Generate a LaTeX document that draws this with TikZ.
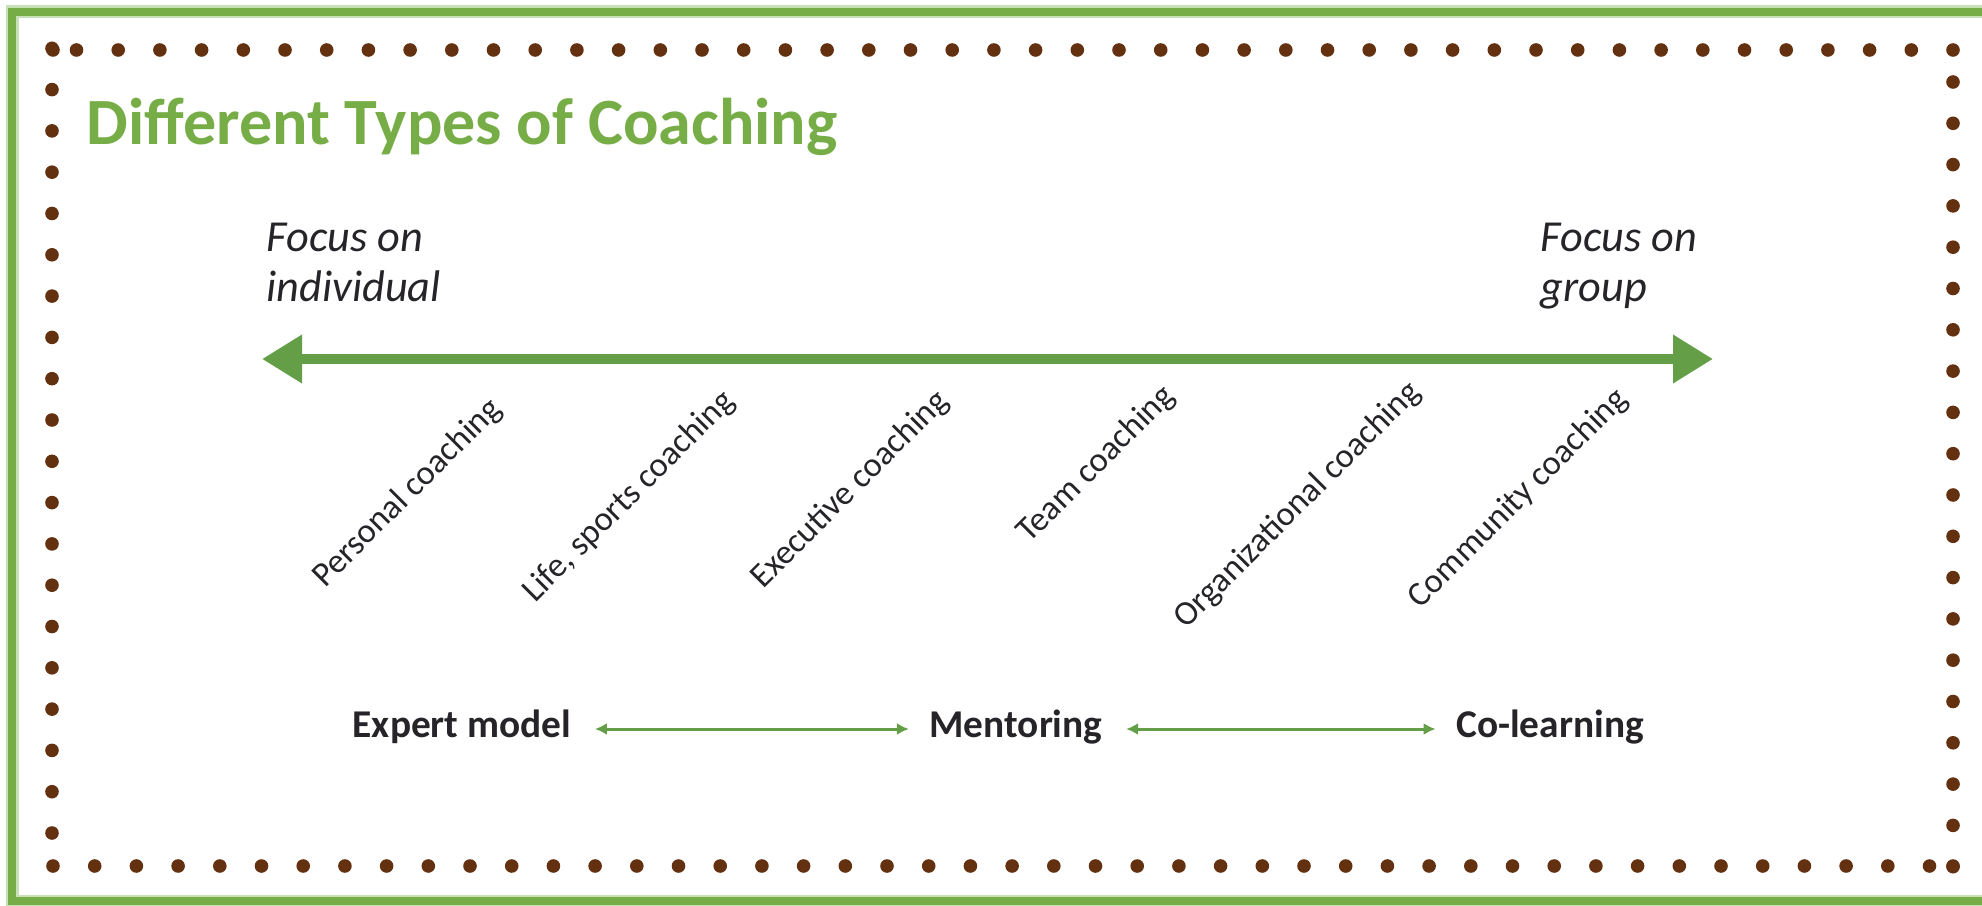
\documentclass[tikz,border=0pt]{standalone}
\usepackage{fontspec}
\setmainfont{Carlito}
\usepackage{xcolor}
\usepackage{tikz}
\usetikzlibrary{arrows.meta}
\usetikzlibrary{positioning}

\definecolor{framegreen}{RGB}{119,173,71}
\definecolor{halogreen}{RGB}{200,224,182}
\definecolor{arrowgreen}{RGB}{100,158,71}
\definecolor{dotbrown}{RGB}{99,48,16}
\definecolor{textgray}{RGB}{38,36,40}

\begin{document}
\begin{tikzpicture}[x=0.1mm,y=-0.1mm,
    coachtype/.style={rotate=45,anchor=east,inner sep=0pt,text=textgray,
      font=\fontsize{9.8}{12}\selectfont},
    focus/.style={anchor=north west,align=left,inner sep=0pt,text=textgray,
      font=\fontsize{12.6}{14.2}\selectfont\itshape},
    model/.style={anchor=mid,inner sep=0pt,text=textgray,
      font=\fontsize{11.2}{13}\selectfont\bfseries},
    bigarrow/.style={draw=arrowgreen,line width=1mm,
      {Triangle[length=4mm,width=4.6mm]}-{Triangle[length=4mm,width=4.6mm]}},
    smallarrow/.style={draw=arrowgreen,line width=0.3mm,
      {Latex[length=1.2mm,width=1.2mm]}-{Latex[length=1.2mm,width=1.2mm]},
      shorten <=2.3mm,shorten >=2.0mm}]
  \useasboundingbox (0,0) rectangle (1982,906);

  \draw[halogreen,line width=1.3mm] (1982,12) -- (12,12) -- (12,901) -- (1982,901);
  \draw[framegreen,line width=0.8mm] (1982,12) -- (12,12) -- (12,901) -- (1982,901);

  \begin{scope}[every path/.style={fill=dotbrown}]
    \foreach \k in {0,...,45} \fill (1953-41.7*\k,50) circle (0.68mm);
    \fill (53,50) circle (0.68mm);
    \foreach \k in {0,...,45} \fill (53+41.7*\k,866) circle (0.68mm);
    \fill (1953,866) circle (0.68mm);
    \foreach \k in {0,...,19} \fill (1953,82+41.3*\k) circle (0.68mm);
    \foreach \k in {0,...,19} \fill (52,833-41.3*\k) circle (0.68mm);
  \end{scope}

  \node[anchor=base west,inner sep=0pt,text=framegreen,
    font=\fontsize{18.8}{20}\selectfont\bfseries] (title) at (86,145) {Different Types of Coaching};

  \node[focus] (individual) at (266,222) {Focus on\\individual};
  \node[focus] (group) at (1540,222) {Focus on\\group};

  \coordinate (leftend) at (262,359);
  \coordinate (rightend) at (1713,359);
  \draw[bigarrow] (leftend) -- (rightend);

  \begin{scope}[every node/.style={coachtype}]
    \node (personal) at (497,404) {Personal coaching};
    \node (life) at (730,396) {Life, sports coaching};
    \node (executive) at (944,396) {Executive coaching};
    \node (team) at (1170,391) {Team coaching};
    \node (organizational) at (1416,387) {Organizational coaching};
    \node (community) at (1623,394) {Community coaching};
  \end{scope}

  \node[model] (expert) at (462,729) {Expert model};
  \node[model] (mentoring) at (1016,729) {Mentoring};
  \node[model] (colearning) at (1550,729) {Co-learning};
  \draw[smallarrow] (expert.mid east) -- (mentoring.mid west);
  \draw[smallarrow] (mentoring.mid east) -- (colearning.mid west);
\end{tikzpicture}
\end{document}
